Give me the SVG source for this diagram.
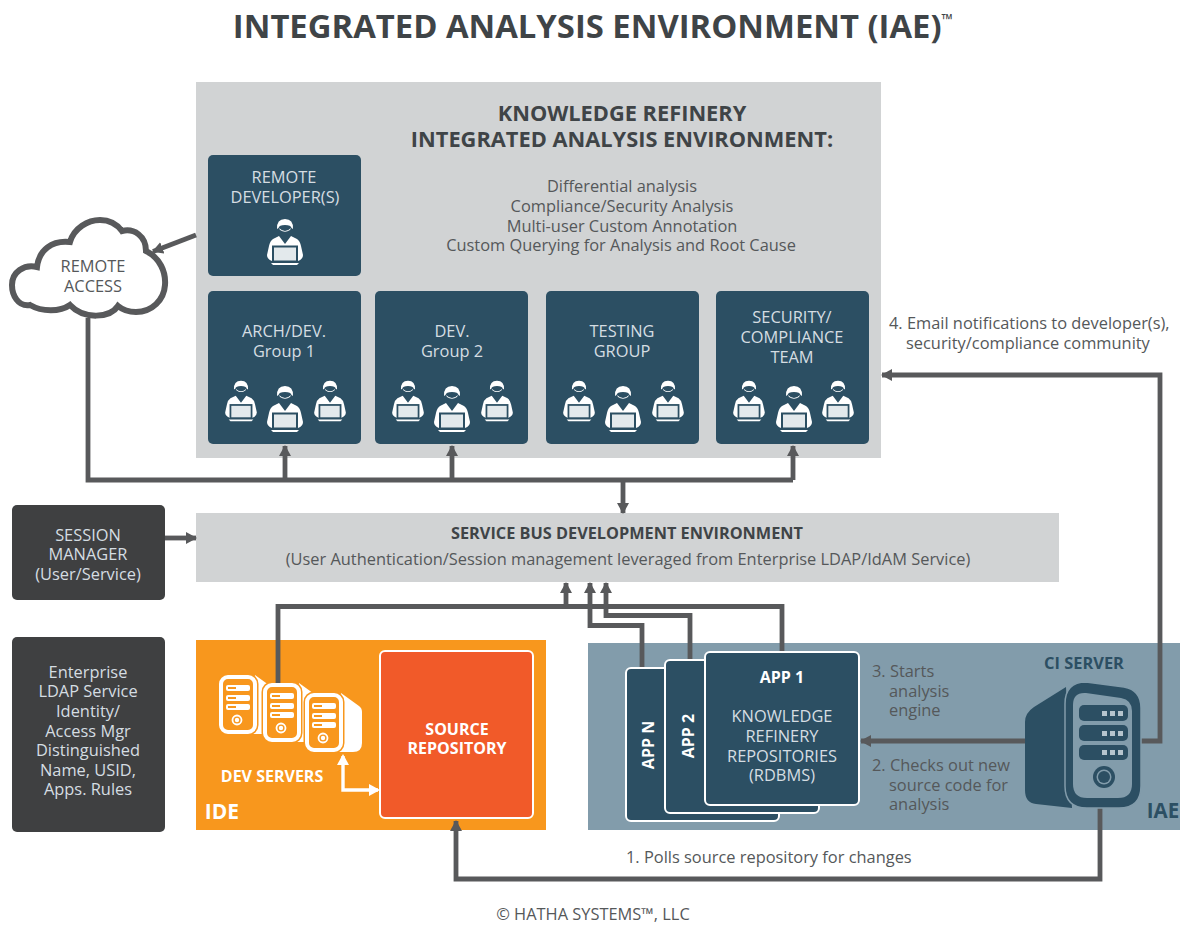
<svg xmlns="http://www.w3.org/2000/svg" width="1180" height="925" viewBox="0 0 1180 925">
<style>
text{font-family:"Open Sans","Noto Sans","Liberation Sans",sans-serif;text-anchor:middle}
.t{font-size:16.4px;fill:#55585a}
.w{font-size:16.4px;fill:#d5dde2}
.wh{font-size:16px;fill:#fff;font-weight:700}
.s{text-anchor:start}
.box{fill:#2c4f63}
.dark{fill:#3f4041}
.gp{fill:#d1d3d4}
.app{fill:#2c4f63;stroke:#fff;stroke-width:2}
.c{fill:none;stroke:#58595b;stroke-width:4.8}
.wc{fill:none;stroke:#fff;stroke-width:3.4}
.p1{fill:#fff}
.p2{fill:#2c4f63}
.p3{fill:#e3e9ec}
</style>
<defs>
<marker id="a" markerUnits="userSpaceOnUse" markerWidth="14" markerHeight="14" refX="10" refY="6" orient="auto"><path d="M0 0L11 6L0 12z" fill="#58595b"/></marker>
<marker id="aw" markerUnits="userSpaceOnUse" markerWidth="14" markerHeight="14" refX="9" refY="6" orient="auto-start-reverse"><path d="M0 0L11 6L0 12z" fill="#fff"/></marker>
<g id="person">
<path class="p1" d="M-8 -13Q-8.500 -23 0 -23Q8.500 -23 8 -13L6.500 -14Q6 -17 0 -17Q-6 -17 -6.500 -14z"/>
<path class="p1" d="M-6 -14Q0 -8 6 -14L5 -12Q0 -8.500 -5 -12z"/>
<path class="p1" d="M-6 -6L0 2L6 -6L12 -3Q15 -1 16 4L18 13Q18 17 13 19L-13 19Q-18 17 -18 13L-16 4Q-15 -1 -12 -3z"/>
<rect class="p2" x="-13" y="3.500" width="26" height="17"/>
<rect class="p3" x="-11" y="5.500" width="22" height="13"/>
<path class="p1" d="M-14 21H14L12 23H-12z"/>
</g>
<g id="srv">
<path d="M36 0L54 13Q57 15 57 19V50Q57 59 48 59H30z" fill="#fff"/>
<rect x="0" y="0" width="38" height="59" rx="9" fill="#f8971d" stroke="#f8971d" stroke-width="3"/>
<rect x="2" y="2" width="34" height="55" rx="7" fill="#f8971d" stroke="#fff" stroke-width="4"/>
<rect x="7" y="10" width="24" height="6" rx="2" fill="#fff"/><rect x="7" y="20" width="24" height="6" rx="2" fill="#fff"/><rect x="7" y="29" width="24" height="6" rx="2" fill="#fff"/>
<rect x="9" y="12" width="8" height="2" fill="#f8971d"/><rect x="9" y="22" width="8" height="2" fill="#f8971d"/><rect x="9" y="31" width="8" height="2" fill="#f8971d"/>
<circle cx="18" cy="45" r="4.500" fill="none" stroke="#fff" stroke-width="1.800"/><circle cx="18" cy="45" r="2.200" fill="#fff"/>
</g>
</defs>
<text id="title" x="593" y="38" font-size="32.800" font-weight="700" fill="#3f4447">INTEGRATED ANALYSIS ENVIRONMENT (IAE)<tspan font-size="15" dy="-13" font-weight="700">™</tspan></text>
<g id="refinery">
<rect class="gp" x="196" y="82" width="685" height="376"/>
<text x="622" y="121" font-size="21.800" font-weight="700" fill="#3f4447">KNOWLEDGE REFINERY</text>
<text x="622" y="147" font-size="21.800" font-weight="700" fill="#3f4447">INTEGRATED ANALYSIS ENVIRONMENT:</text>
<text class="t" x="622" y="192">Differential analysis</text>
<text class="t" x="622" y="212">Compliance/Security Analysis</text>
<text class="t" x="622" y="232">Multi-user Custom Annotation</text>
<text class="t" x="621" y="251">Custom Querying for Analysis and Root Cause</text>
</g>
<g id="remote-developers">
<rect class="box" x="208" y="155" width="153" height="121" rx="5"/>
<text class="w" x="284" y="183">REMOTE</text><text class="w" x="285" y="203">DEVELOPER(S)</text>
<use href="#person" transform="translate(285 242)"/>
</g>
<g id="group1">
<rect class="box" x="208" y="291" width="153" height="153" rx="5"/>
<text class="w" x="284" y="337">ARCH/DEV.</text><text class="w" x="284" y="357">Group 1</text>
<use href="#person" transform="translate(241 401) scale(.88)"/><use href="#person" transform="translate(285 409)"/><use href="#person" transform="translate(330 401) scale(.88)"/>
</g>
<g id="group2">
<rect class="box" x="375" y="291" width="153" height="153" rx="5"/>
<text class="w" x="452" y="337">DEV.</text><text class="w" x="452" y="357">Group 2</text>
<use href="#person" transform="translate(408 401) scale(.88)"/><use href="#person" transform="translate(452 409)"/><use href="#person" transform="translate(497 401) scale(.88)"/>
</g>
<g id="testing">
<rect class="box" x="546" y="291" width="153" height="153" rx="5"/>
<text class="w" x="622" y="337">TESTING</text><text class="w" x="622" y="357">GROUP</text>
<use href="#person" transform="translate(579 401) scale(.88)"/><use href="#person" transform="translate(623 409)"/><use href="#person" transform="translate(668 401) scale(.88)"/>
</g>
<g id="security">
<rect class="box" x="716" y="291" width="153" height="153" rx="5"/>
<text class="w" x="792" y="323">SECURITY/</text><text class="w" x="792" y="343">COMPLIANCE</text><text class="w" x="792" y="363">TEAM</text>
<use href="#person" transform="translate(749 401) scale(.88)"/><use href="#person" transform="translate(794 409)"/><use href="#person" transform="translate(838 401) scale(.88)"/>
</g>
<g id="cloud">
<path d="M30 305C18 307 12 295 12 285C12 272 24 264 37 267C39 250 52 240 70 242C74 228 88 220 100 220C108 220 116 223 122 231C134 228 146 236 146 251C160 258 166 272 165 285C164 300 152 312 136 312C130 312 124 311 118 306C110 318 84 320 70 305C60 312 42 312 30 305z" fill="#fff" stroke="#58595b" stroke-width="6"/>
<text class="t" x="93" y="272">REMOTE</text><text class="t" x="93" y="292">ACCESS</text>
</g>
<g id="service-bus">
<rect class="gp" x="196" y="513" width="863" height="69"/>
<text x="627" y="539" font-size="16.300" font-weight="700" fill="#3f4447">SERVICE BUS DEVELOPMENT ENVIRONMENT</text>
<text class="t" x="628" y="565">(User Authentication/Session management leveraged from Enterprise LDAP/IdAM Service)</text>
</g>
<g id="session-manager">
<rect class="dark" x="12" y="505" width="153" height="95" rx="5"/>
<text class="w" x="88" y="541">SESSION</text><text class="w" x="88" y="560">MANAGER</text><text class="w" x="88" y="580">(User/Service)</text>
</g>
<g id="ldap">
<rect class="dark" x="12" y="637" width="153" height="195" rx="5"/>
<text class="w" x="88" y="678">Enterprise</text><text class="w" x="88" y="697">LDAP Service</text><text class="w" x="88" y="717">Identity/</text><text class="w" x="88" y="737">Access Mgr</text><text class="w" x="88" y="756">Distinguished</text><text class="w" x="88" y="776">Name, USID,</text><text class="w" x="88" y="795">Apps. Rules</text>
</g>
<g id="ide">
<rect x="196" y="640" width="350" height="190" fill="#f8971d"/>
<text x="222" y="819" font-size="21" font-weight="700" fill="#fff">IDE</text>
</g>
<g id="dev-servers">
<use href="#srv" transform="translate(219 675)"/><use href="#srv" transform="translate(263 683)"/><use href="#srv" transform="translate(305 693)"/>
<text x="272" y="782" font-size="16" font-weight="700" fill="#fff">DEV SERVERS</text>
</g>
<g id="source-repository">
<rect x="380" y="651" width="153" height="167" rx="5" fill="#f15a29" stroke="#fff" stroke-width="2"/>
<text class="wh" x="457" y="735">SOURCE</text><text class="wh" x="457" y="754">REPOSITORY</text>
</g>
<g id="iae">
<rect x="588" y="643" width="592" height="187" fill="#829cab"/>
<text x="1163" y="818" font-size="20.500" font-weight="700" fill="#2c4f63">IAE</text>
</g>
<g id="connectors">
<path class="c" d="M88 318V480H793"/>
<path class="c" d="M285 480V446" marker-end="url(#a)"/>
<path class="c" d="M452 480V446" marker-end="url(#a)"/>
<path class="c" d="M793 480V446" marker-end="url(#a)"/>
<path class="c" d="M623 480V513" marker-end="url(#a)"/>
<path class="c" d="M196 235L153 251.500" marker-end="url(#a)"/>
<path class="c" d="M165 538H196" marker-end="url(#a)"/>
<path class="c" d="M278 683V606.500H782V652"/>
<path class="c" d="M566 606.500V583" marker-end="url(#a)"/>
<path class="c" d="M642 668V625.500H590V583" marker-end="url(#a)"/>
<path class="c" d="M690 660V615.500H606V583" marker-end="url(#a)"/>
<path class="c" d="M1026 741H861" marker-end="url(#a)"/>
<path class="c" d="M1141 741H1160V375H882" marker-end="url(#a)"/>
<path class="c" d="M1100 806V879H456V821" marker-end="url(#a)"/>
<path class="wc" d="M343 756V790H378" marker-start="url(#aw)" marker-end="url(#aw)"/>
</g>
<g id="app-n">
<rect class="app" x="626" y="668" width="153" height="153" rx="5"/>
<text class="wh" transform="translate(654 745) rotate(-90)">APP N</text>
</g>
<g id="app-2">
<rect class="app" x="665" y="660" width="154" height="153" rx="5"/>
<text class="wh" transform="translate(694 736) rotate(-90)">APP 2</text>
</g>
<g id="app-1">
<rect class="app" x="705" y="652" width="154" height="153" rx="5"/>
<text class="wh" x="782" y="683">APP 1</text>
<text class="w" x="782" y="722">KNOWLEDGE</text><text class="w" x="782" y="742">REFINERY</text><text class="w" x="782" y="762">REPOSITORIES</text><text class="w" x="782" y="781">(RDBMS)</text>
</g>
<g id="ci-server">
<text x="1084" y="669" font-size="16.400" font-weight="700" fill="#2c4f63">CI SERVER</text>
<path d="M1066 687L1034 707Q1025 713 1025 722V790Q1025 803 1036 804L1072 808z" fill="#2c4f63"/>
<path d="M1065 704Q1065 682 1086 682L1124 687Q1141 690 1141 708V786Q1141 808 1119 808H1087Q1065 808 1065 786z" fill="#2c4f63" stroke="#829cab" stroke-width="1.500"/>
<path d="M1073 705Q1073 692 1086 693L1121 698Q1132 700 1132 711V784Q1132 798 1118 798H1087Q1073 798 1073 784z" fill="#829cab"/>
<rect x="1079" y="705" width="49" height="16" rx="5" fill="#2c4f63"/><rect x="1079" y="725" width="49" height="16" rx="5" fill="#2c4f63"/><rect x="1079" y="745" width="49" height="15" rx="5" fill="#2c4f63"/>
<rect x="1102" y="711" width="5" height="5" fill="#b6c5ce"/><rect x="1110" y="711" width="5" height="5" fill="#b6c5ce"/><rect x="1118" y="711" width="5" height="5" fill="#b6c5ce"/>
<rect x="1102" y="731" width="5" height="5" fill="#b6c5ce"/><rect x="1110" y="731" width="5" height="5" fill="#b6c5ce"/><rect x="1118" y="731" width="5" height="5" fill="#b6c5ce"/>
<rect x="1102" y="750" width="5" height="5" fill="#b6c5ce"/><rect x="1110" y="750" width="5" height="5" fill="#b6c5ce"/><rect x="1118" y="750" width="5" height="5" fill="#b6c5ce"/>
<circle cx="1104" cy="777" r="11" fill="#2c4f63"/><circle cx="1104" cy="777" r="7.500" fill="#829cab"/><circle cx="1104" cy="777" r="6" fill="#2c4f63"/>
</g>
<g id="labels">
<text class="t s" x="889" y="329">4. Email notifications to developer(s),</text>
<text class="t s" x="906" y="349">security/compliance community</text>
<text class="t s" x="872" y="677">3. Starts</text><text class="t s" x="889" y="697">analysis</text><text class="t s" x="889" y="716">engine</text>
<text class="t s" x="872" y="771">2. Checks out new</text><text class="t s" x="889" y="791">source code for</text><text class="t s" x="889" y="810">analysis</text>
<text class="t s" x="626" y="863">1. Polls source repository for changes</text>
<text class="t" x="593" y="920">© HATHA SYSTEMS™, LLC</text>
</g>
</svg>
